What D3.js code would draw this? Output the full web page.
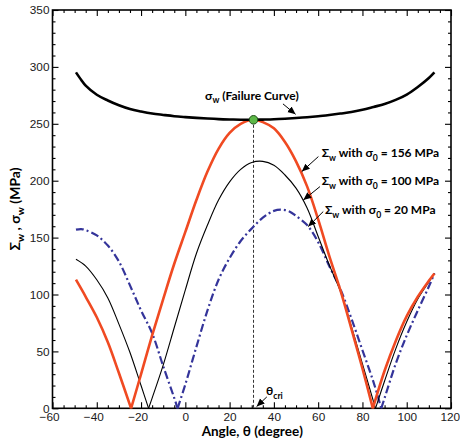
<!DOCTYPE html>
<html>
<head>
<meta charset="utf-8">
<script src="https://cdn.jsdelivr.net/npm/d3@7"></script>
<style>
  body { margin: 0; background: #fff; }
  svg { display: block; }
</style>
</head>
<body>
<svg id="chart" width="460" height="444"></svg>
<script>
// ---- axis ranges and ticks ----
const xDomain = [-60, 120];
const yDomain = [0, 350];
const xMajorTicks = [-60, -40, -20, 0, 20, 40, 60, 80, 100, 120];
const yMajorTicks = [0, 50, 100, 150, 200, 250, 300, 350];
const xMinorStep = 5;
const yMinorStep = 10;

// ---- series: [angle θ (degree), stress (MPa)] ----
// σw, failure curve
const failureCurve = [
  [-49.4, 295.2], [-47, 288.5], [-45, 283.5], [-40, 275.5], [-35, 270.5], [-30, 266.3],
  [-25, 263], [-20, 260.8], [-15, 259], [-10, 257.8], [-5, 256.7], [0, 255.9],
  [5, 255.2], [10, 254.6], [15, 254.1], [20, 253.8], [25, 253.6], [30.8, 253.5],
  [35, 253.7], [40, 254], [45, 254.5], [50, 255.1], [55, 255.8], [60, 256.7],
  [65, 257.8], [70, 259], [75, 260.3], [80, 262.3], [85, 264.8], [90, 267.4],
  [95, 271], [100, 275.7], [105, 282.4], [110, 290.3], [112.5, 295.2]
];
// Σw with σ0 = 156 MPa
const sigma156 = [
  [-49.4, 113], [-45, 98], [-40, 80], [-35, 58], [-30, 31], [-24.5, 0],
  [-20, 30], [-15, 64], [-10, 96], [-5, 127], [0, 155], [5, 183], [10, 208],
  [15, 228], [20, 242], [25, 250], [30.8, 253.5], [35, 251.5], [40, 246],
  [45, 234], [50, 217], [55, 195], [60, 166], [65, 134], [70, 104], [75, 70],
  [80, 35], [84.7, 0], [90, 33], [95, 59], [100, 81], [105, 98], [110, 112],
  [112.5, 118.5]
];
// Σw with σ0 = 100 MPa
const sigma100 = [
  [-49.4, 131], [-45, 125], [-40, 113], [-35, 97], [-30, 74], [-25, 49],
  [-20, 20], [-16.6, 0], [-15, 9], [-10, 38], [-5, 71], [0, 104], [5, 136],
  [10, 161], [15, 183], [20, 199], [25, 210], [30, 216], [35, 217], [40, 213.5],
  [45, 205], [50, 193.5], [55, 176], [60, 151], [65, 126], [70, 103], [75, 72],
  [80, 39], [85.9, 0], [90, 24], [95, 52], [100, 76], [105, 96], [110, 111],
  [112.5, 118.5]
];
// Σw with σ0 = 20 MPa
const sigma20 = [
  [-49.4, 157], [-47, 157.5], [-45, 156.5], [-40, 152], [-35, 143], [-30, 129],
  [-25, 108], [-20, 86], [-15, 66], [-10, 37], [-5, 9], [-3.5, 0], [0, 21],
  [5, 54], [10, 86], [15, 113], [20, 132], [25, 147], [30, 158], [35, 167.5],
  [40, 173.5], [43.5, 174.5], [47, 173], [50, 169], [55, 161], [60, 146],
  [65, 125], [70, 105], [75, 79], [80, 51], [85, 23], [88.5, 0], [90, 9],
  [95, 39], [100, 64], [105, 86], [110, 107], [112.5, 118.5]
];
// critical angle where Σw (σ0 = 156 MPa) touches the failure curve
const thetaCri = 30.8;
const thetaCriStress = 253.5;

// ---- layout ----
const svg = d3.select("#chart");
const plot = { left: 52.5, right: 451, top: 10, bottom: 408.3 };

const x = d3.scaleLinear().domain(xDomain).range([plot.left, plot.right]);
const y = d3.scaleLinear().domain(yDomain).range([plot.bottom, plot.top]);

const labelFont = "'Liberation Sans', Arial, sans-serif";
const boldFont = "Lato, 'DejaVu Sans', sans-serif";

// arrow head marker
svg.append("defs").append("marker")
  .attr("id", "arrowhead")
  .attr("markerUnits", "userSpaceOnUse")
  .attr("markerWidth", 9).attr("markerHeight", 8)
  .attr("refX", 8).attr("refY", 3.5)
  .attr("orient", "auto")
  .append("path").attr("d", "M0,0 L8,3.5 L0,7 Z").attr("fill", "#000");

// ---- axes: inward ticks on all four sides ----
const xMinor = d3.range(xDomain[0], xDomain[1] + 0.01, xMinorStep).filter(v => !xMajorTicks.includes(v));
const yMinor = d3.range(yDomain[0], yDomain[1] + 0.01, yMinorStep).filter(v => !yMajorTicks.includes(v));
const fmtX = d => d < 0 ? "\u2212" + Math.abs(d) : String(d);

function styleAxis(g) {
  g.select(".domain").remove();
  g.selectAll(".tick line").attr("stroke", "#000").attr("stroke-width", 1.1);
  g.selectAll("text").attr("font-family", labelFont).attr("font-size", 11.8).attr("fill", "#1a1a1a");
}

// bottom
svg.append("g").attr("transform", `translate(0,${plot.bottom})`)
  .call(d3.axisBottom(x).tickValues(xMajorTicks).tickFormat(fmtX).tickSizeInner(-6).tickSizeOuter(0).tickPadding(4.3))
  .call(styleAxis)
  .call(g => g.selectAll("text").filter(d => d < 0).attr("dx", -3.4))
  .call(g => g.selectAll("text").filter(d => d === xDomain[1]).attr("dx", -1.2));
svg.append("g").attr("transform", `translate(0,${plot.bottom})`)
  .call(d3.axisBottom(x).tickValues(xMinor).tickFormat("").tickSizeInner(-3).tickSizeOuter(0))
  .call(styleAxis);
// top
svg.append("g").attr("transform", `translate(0,${plot.top})`)
  .call(d3.axisTop(x).tickValues(xMajorTicks).tickFormat("").tickSizeInner(-6).tickSizeOuter(0))
  .call(styleAxis);
svg.append("g").attr("transform", `translate(0,${plot.top})`)
  .call(d3.axisTop(x).tickValues(xMinor).tickFormat("").tickSizeInner(-3).tickSizeOuter(0))
  .call(styleAxis);
// left
svg.append("g").attr("transform", `translate(${plot.left},0)`)
  .call(d3.axisLeft(y).tickValues(yMajorTicks).tickSizeInner(-6).tickSizeOuter(0).tickPadding(3))
  .call(styleAxis);
svg.append("g").attr("transform", `translate(${plot.left},0)`)
  .call(d3.axisLeft(y).tickValues(yMinor).tickFormat("").tickSizeInner(-3).tickSizeOuter(0))
  .call(styleAxis);
// right
svg.append("g").attr("transform", `translate(${plot.right},0)`)
  .call(d3.axisRight(y).tickValues(yMajorTicks).tickFormat("").tickSizeInner(-6).tickSizeOuter(0))
  .call(styleAxis);
svg.append("g").attr("transform", `translate(${plot.right},0)`)
  .call(d3.axisRight(y).tickValues(yMinor).tickFormat("").tickSizeInner(-3).tickSizeOuter(0))
  .call(styleAxis);

// frame
svg.append("rect")
  .attr("x", plot.left).attr("y", plot.top)
  .attr("width", plot.right - plot.left).attr("height", plot.bottom - plot.top)
  .attr("fill", "none").attr("stroke", "#000").attr("stroke-width", 1.6);

// ---- curves ----
// split an |Σw| series at its zero points so the cusps stay sharp
function branches(pts) {
  const out = [];
  let cur = [];
  pts.forEach((p, i) => {
    cur.push(p);
    if (p[1] === 0 && i > 0 && i < pts.length - 1) { out.push(cur); cur = [p]; }
  });
  out.push(cur);
  return out;
}
const line = d3.line().x(d => x(d[0])).y(d => y(d[1])).curve(d3.curveCatmullRom.alpha(0.5));

// dashed drop line at θcri
svg.append("line")
  .attr("x1", x(thetaCri)).attr("x2", x(thetaCri))
  .attr("y1", y(thetaCriStress)).attr("y2", y(0))
  .attr("stroke", "#333").attr("stroke-width", 1).attr("stroke-dasharray", "3,2");

function drawSeries(data, color, width, dash) {
  svg.append("g").selectAll("path").data(branches(data)).join("path")
    .attr("d", line)
    .attr("fill", "none")
    .attr("stroke", color)
    .attr("stroke-width", width)
    .attr("stroke-linejoin", "round")
    .attr("stroke-dasharray", dash || null);
}
drawSeries(sigma20, "#34349a", 2.2, "8,3,2,3");
drawSeries(sigma100, "#000", 1.1);
drawSeries(sigma156, "#f04a22", 2.6);

svg.append("path").datum(failureCurve)
  .attr("d", line).attr("fill", "none")
  .attr("stroke", "#000").attr("stroke-width", 2.6);

svg.append("circle")
  .attr("cx", x(thetaCri)).attr("cy", y(thetaCriStress)).attr("r", 4.3)
  .attr("fill", "#5cb847").attr("stroke", "#1e4d18").attr("stroke-width", 1);

// ---- labels ----
function rich(xPos, yPos, parts, size, anchor) {
  const t = svg.append("text")
    .attr("x", xPos).attr("y", yPos)
    .attr("font-family", boldFont).attr("font-weight", "bold")
    .attr("font-size", size).attr("fill", "#000")
    .attr("text-anchor", anchor || "start");
  let shift = 0;
  parts.forEach(p => {
    const s = t.append("tspan").text(p.t);
    if (p.sub) {
      const drop = size * 0.32;
      s.attr("font-size", size * 0.72).attr("dy", drop - shift);
      shift = drop;
    } else if (shift) {
      s.attr("dy", -shift);
      shift = 0;
    }
  });
  return t;
}
function arrow(from, tip) {
  svg.append("line")
    .attr("x1", x(from[0])).attr("y1", y(from[1]))
    .attr("x2", x(tip[0])).attr("y2", y(tip[1]))
    .attr("stroke", "#000").attr("stroke-width", 1)
    .attr("marker-end", "url(#arrowhead)");
}

// failure curve label
rich(205, 99.5, [{ t: "\u03c3" }, { t: "w", sub: true }, { t: " (Failure Curve)" }], 12);
arrow([44.1, 267.5], [49.8, 258.3]);

// series labels, each with an arrow onto its curve
const seriesLabels = [
  { s0: "156", yPos: 156.7, xPos: 321.7, from: [60.1, 221.2], tip: [52.6, 208] },
  { s0: "100", yPos: 185.2, xPos: 321.7, from: [60.8, 194.8], tip: [53.3, 183] },
  { s0: "20",  yPos: 214.3, xPos: 325,   from: [62.3, 172.9], tip: [55.5, 159.7] }
];
seriesLabels.forEach(l => {
  rich(l.xPos, l.yPos, [
    { t: "\u03a3" }, { t: "w", sub: true }, { t: " with " },
    { t: "\u03c3" }, { t: "0", sub: true }, { t: " = " + l.s0 + " MPa" }
  ], 12);
  arrow(l.from, l.tip);
});

// θcri label
rich(266, 395, [{ t: "\u03b8" }, { t: "cri", sub: true }], 12);
arrow([36.8, 10], [32.2, 1.5]);

// axis titles
rich((plot.left + plot.right) / 2 + 0.5, 436, [{ t: "Angle, \u03b8 (degree)" }], 13.5, "middle");
rich(0, 0, [
  { t: "\u03a3" }, { t: "w", sub: true }, { t: " , " },
  { t: "\u03c3" }, { t: "w", sub: true }, { t: " (MPa)" }
], 14, "middle").attr("transform", "translate(19.5,209) rotate(-90)");
</script>
</body>
</html>
